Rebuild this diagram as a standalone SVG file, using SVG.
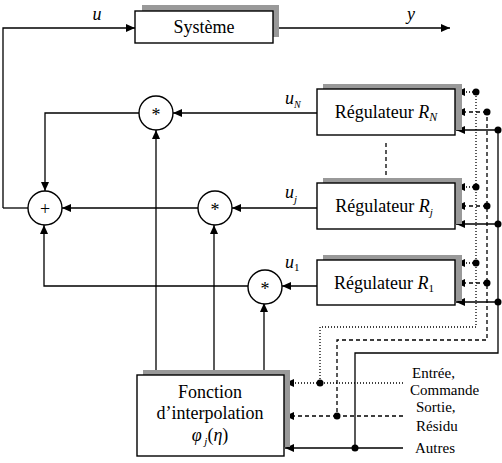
<svg xmlns="http://www.w3.org/2000/svg" width="502" height="463" viewBox="0 0 502 463">
<style>
.box{fill:#fff;stroke:#000;stroke-width:1.4}
.sh{fill:#999}
.ln{fill:none;stroke:#000;stroke-width:1.3}
.dot{stroke-dasharray:1 2}
.dash{stroke-dasharray:4 3}
.arr{marker-end:url(#a)}
.t{font-family:"Liberation Serif",serif;font-size:18px;fill:#000}
.it{font-style:italic}
.s{font-family:"Liberation Serif",serif;font-size:15px;fill:#000}
.j{fill:#000}
</style>
<defs>
<marker id="a" markerUnits="userSpaceOnUse" markerWidth="9" markerHeight="8" refX="9" refY="4" orient="auto"><path d="M0,0 L9,4 L0,8 z" fill="#000"/></marker>
</defs>
<g id="connectors">
<path class="ln arr" d="M3,208 V28 H135"/>
<path class="ln arr" d="M273,28 H450"/>
<path class="ln arr" d="M139,113 H45 V191"/>
<path class="ln arr" d="M198,208 H62"/>
<path class="ln arr" d="M248,286 H44 V225"/>
<path class="ln" d="M3,208 H28"/>
<path class="ln arr" d="M317,113 H173"/>
<path class="ln arr" d="M317,208 H232"/>
<path class="ln arr" d="M317,286 H282"/>
<path class="ln arr" d="M156,375 V130"/>
<path class="ln arr" d="M214,375 V225"/>
<path class="ln arr" d="M264,375 V303"/>
<path class="ln dash" d="M386,143 V178"/>
<path class="ln dot" d="M403,383 H320 V327 H476 V92"/>
<path class="ln dash" d="M403,416 H337 V340 H487 V112"/>
<path class="ln" d="M403,448 H355 V353 H498 V130"/>
<path class="ln dot arr" d="M320,383 H285"/>
<path class="ln dash arr" d="M337,416 H285"/>
<path class="ln arr" d="M355,448 H285"/>
<path class="ln dot arr" d="M476,92 H456"/>
<path class="ln dash arr" d="M487,112 H456"/>
<path class="ln arr" d="M498,130 H456"/>
<path class="ln dot arr" d="M476,187 H456"/>
<path class="ln dash arr" d="M487,206 H456"/>
<path class="ln arr" d="M498,224 H456"/>
<path class="ln dot arr" d="M476,263 H456"/>
<path class="ln dash arr" d="M487,283 H456"/>
<path class="ln arr" d="M498,302 H456"/>
<g class="j">
<circle cx="476" cy="92" r="3.5"/><circle cx="487" cy="112" r="3.5"/><circle cx="498" cy="130" r="3.5"/>
<circle cx="476" cy="187" r="3.5"/><circle cx="487" cy="206" r="3.5"/><circle cx="498" cy="224" r="3.5"/>
<circle cx="476" cy="263" r="3.5"/><circle cx="487" cy="283" r="3.5"/><circle cx="498" cy="302" r="3.5"/>
<circle cx="320" cy="383" r="3.5"/><circle cx="337" cy="416" r="3.5"/><circle cx="355" cy="448" r="3.5"/>
</g>
</g>
<g id="systeme">
<rect class="sh" x="142" y="5" width="137" height="32"/>
<rect class="box" x="135" y="11" width="138" height="32"/>
<text class="t" x="204" y="33" text-anchor="middle">Système</text>
</g>
<g id="labels">
<text class="t it" x="97" y="20" text-anchor="middle">u</text>
<text class="t it" x="411" y="20" text-anchor="middle">y</text>
<text class="t it" x="285" y="104">u<tspan font-size="10" dy="4">N</tspan></text>
<text class="t it" x="285" y="198">u<tspan font-size="11" dy="5">j</tspan></text>
<text class="t it" x="285" y="268">u<tspan font-size="11" font-style="normal" dy="3">1</tspan></text>
<text class="s" x="412" y="378">Entrée,</text>
<text class="s" x="410" y="395">Commande</text>
<text class="s" x="416" y="412">Sortie,</text>
<text class="s" x="416" y="431">Résidu</text>
<text class="s" x="415" y="453">Autres</text>
</g>
<g id="regN">
<rect class="sh" x="323" y="84" width="139" height="46"/>
<rect class="box" x="317" y="89" width="138" height="46"/>
<text class="t" x="386" y="118" text-anchor="middle">Régulateur <tspan class="it">R</tspan><tspan class="it" font-size="12" dy="3">N</tspan></text>
</g>
<g id="regJ">
<rect class="sh" x="323" y="178" width="139" height="46"/>
<rect class="box" x="317" y="183" width="138" height="46"/>
<text class="t" x="384" y="212" text-anchor="middle">Régulateur  <tspan class="it">R</tspan><tspan class="it" font-size="11" dy="4">j</tspan></text>
</g>
<g id="reg1">
<rect class="sh" x="323" y="255" width="139" height="46"/>
<rect class="box" x="317" y="260" width="138" height="45"/>
<text class="t" x="384" y="289" text-anchor="middle">Régulateur  <tspan class="it">R</tspan><tspan font-size="11" dy="3">1</tspan></text>
</g>
<g id="sum">
<circle class="box" cx="45" cy="208" r="17"/>
<text class="t" x="45" y="215" text-anchor="middle" font-size="22">+</text>
</g>
<g id="multN">
<circle class="box" cx="156" cy="113" r="17"/>
<text class="t" x="156" y="121" text-anchor="middle" font-size="15">*</text>
</g>
<g id="multJ">
<circle class="box" cx="215" cy="208" r="17"/>
<text class="t" x="215" y="216" text-anchor="middle" font-size="15">*</text>
</g>
<g id="mult1">
<circle class="box" cx="265" cy="287" r="17"/>
<text class="t" x="265" y="295" text-anchor="middle" font-size="15">*</text>
</g>
<g id="fonction">
<rect class="sh" x="143" y="370" width="147" height="77"/>
<rect class="box" x="137" y="375" width="147" height="81"/>
<text class="t" x="210" y="398" text-anchor="middle">Fonction</text>
<text class="t" x="210" y="419" text-anchor="middle">d’interpolation</text>
<text class="t" x="210" y="441" text-anchor="middle"><tspan class="it">φ</tspan><tspan class="it" font-size="11" dy="4"> j</tspan><tspan dy="-4">(</tspan><tspan class="it">η</tspan>)</text>
</g>
</svg>
